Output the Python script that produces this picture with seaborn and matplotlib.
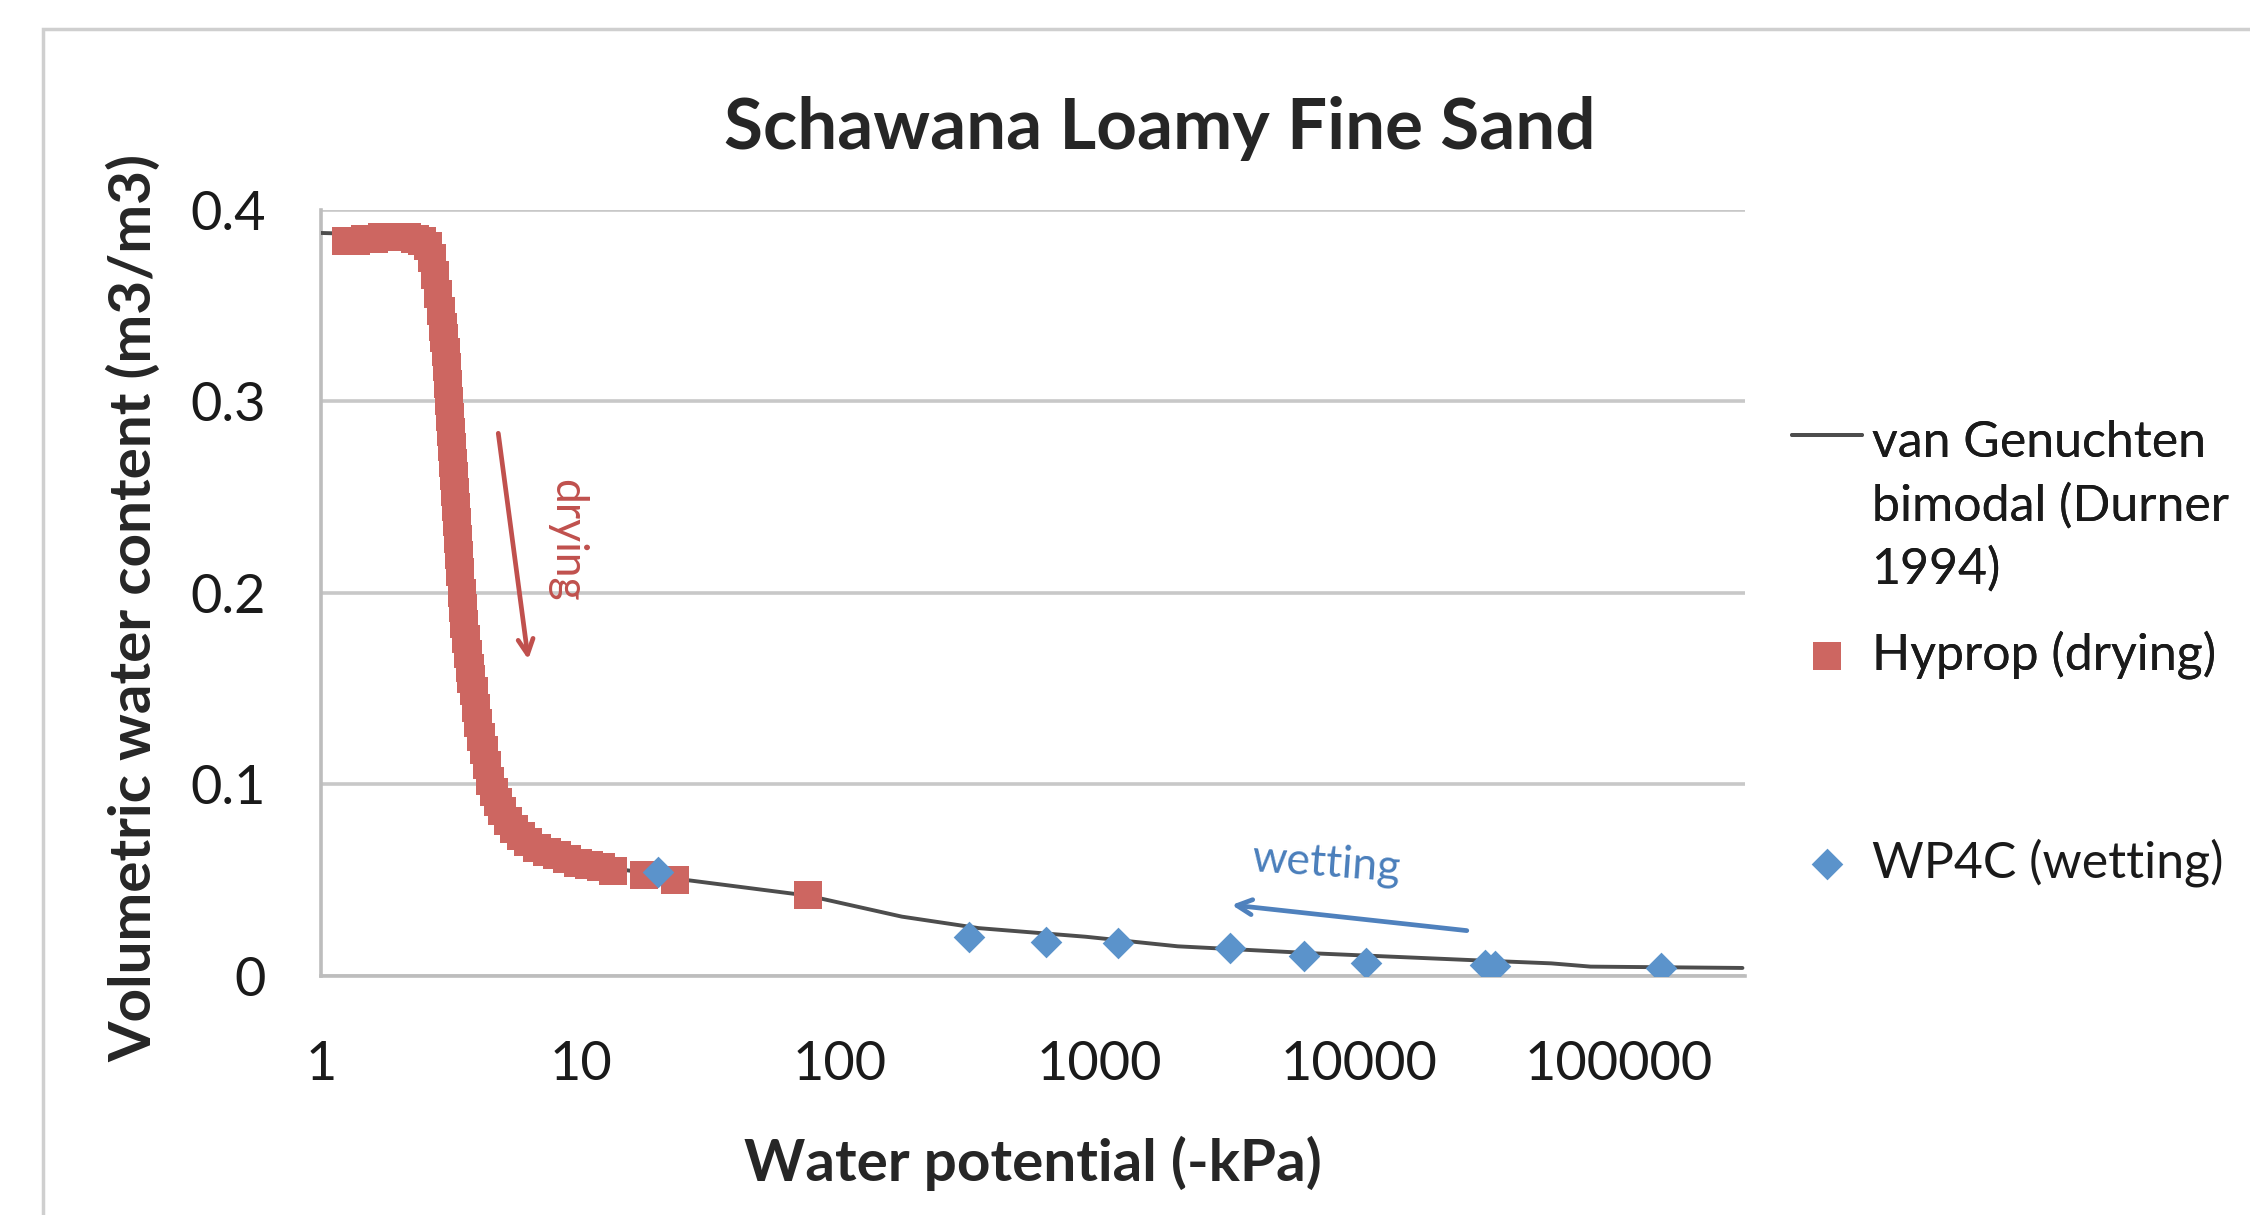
""" Water retention curve for the Schawana loamy fine sand """

import matplotlib
matplotlib.use("Agg")
import matplotlib.pyplot as plt
import pandas as pd
import seaborn as sns
from matplotlib.legend_handler import HandlerLine2D
from matplotlib.patches import Rectangle

# van Genuchten bimodal fit (Durner 1994)
vg_kpa = [1, 2, 2.5, 2.8, 3.0, 3.2, 3.5, 3.8, 4.0, 4.5, 5.2, 6.6, 8.8, 12, 20, 26,
          75, 173, 342, 884, 2000, 6800, 26000, 55000, 78000, 300000]
vg_theta = [0.388, 0.387, 0.38, 0.36, 0.33, 0.28, 0.20, 0.155, 0.132, 0.10, 0.082,
            0.067, 0.061, 0.057, 0.053, 0.050, 0.042, 0.031, 0.025, 0.0205, 0.0155,
            0.0118, 0.0084, 0.0066, 0.0049, 0.0042]

# Hyprop measurements (drying)
hyprop_kpa = [1.25, 1.36, 1.48, 1.6, 1.72, 1.85, 2.0, 2.15, 2.3, 2.45, 2.58, 2.68,
              2.76, 2.83, 2.89, 2.94, 2.98, 3.02, 3.05, 3.08, 3.11, 3.14, 3.17, 3.2,
              3.23, 3.26, 3.29, 3.32, 3.35, 3.38, 3.41, 3.44, 3.48, 3.52, 3.57, 3.62,
              3.68, 3.74, 3.8, 3.87, 3.95, 4.04, 4.13, 4.23, 4.35, 4.48, 4.63, 4.8,
              5.0, 5.25, 5.55, 5.9, 6.3, 6.8, 7.4, 8.1, 8.9, 9.8, 10.8, 12.0, 13.3,
              17.5, 23.1, 75.5]
hyprop_theta = [0.384, 0.384, 0.385, 0.385, 0.386, 0.386, 0.386, 0.386, 0.385, 0.384,
                0.381, 0.375, 0.366, 0.356, 0.347, 0.339, 0.333, 0.326, 0.318, 0.309,
                0.300, 0.292, 0.284, 0.276, 0.268, 0.261, 0.253, 0.245, 0.237, 0.228,
                0.220, 0.211, 0.200, 0.192, 0.184, 0.176, 0.168, 0.161, 0.155, 0.149,
                0.140, 0.132, 0.125, 0.118, 0.110, 0.102, 0.096, 0.091, 0.086, 0.081,
                0.077, 0.073, 0.070, 0.067, 0.065, 0.063, 0.061, 0.059, 0.058, 0.057,
                0.0548, 0.0527, 0.050, 0.0423]

# WP4C measurements (wetting)
wp4c_kpa = [19.9, 315, 621, 1175, 3170, 6120, 10600, 30500, 33500, 145800]
wp4c_theta = [0.0545, 0.0205, 0.0179, 0.0171, 0.0145, 0.0105, 0.0066, 0.0057, 0.0050, 0.0040]

x_ticks = [1, 10, 100, 1000, 10000, 100000]
x_tick_labels = ["1", "10", "100", "1000", "10000", "100000"]
y_ticks = [0, 0.1, 0.2, 0.3, 0.4]
y_tick_labels = ["0", "0.1", "0.2", "0.3", "0.4"]

RED = "#CD6661"
BLUE = "#5B93CB"
GRID = "#C8C8C8"


class TopLineHandler(HandlerLine2D):
    """ Put the legend line next to the first line of a multi-line label """

    def create_artists(self, legend, orig_handle, xdescent, ydescent, width, height,
                       fontsize, trans):
        artists = super().create_artists(legend, orig_handle, xdescent, ydescent,
                                         width, height, fontsize, trans)
        for artist in artists:
            artist.set_ydata([y + 1.45 * fontsize for y in artist.get_ydata()])
        return artists


sns.set_theme(style="white")
plt.rcParams["font.family"] = ["Lato", "DejaVu Sans"]

fig = plt.figure(figsize=(22.5, 12.15), dpi=100)
ax = fig.add_axes([0.14267, 0.19671, 0.63289, 0.63045])
ax.set_xscale("log")

vg_df = pd.DataFrame({"kpa": vg_kpa, "theta": vg_theta})
hyprop_df = pd.DataFrame({"kpa": hyprop_kpa, "theta": hyprop_theta})
wp4c_df = pd.DataFrame({"kpa": wp4c_kpa, "theta": wp4c_theta})

sns.lineplot(data=vg_df, x="kpa", y="theta", ax=ax, color="#4d4d4d", linewidth=2.8,
             label="van Genuchten\nbimodal (Durner\n1994)", zorder=3)
sns.scatterplot(data=hyprop_df, x="kpa", y="theta", ax=ax, marker="s", s=390,
                color=RED, linewidth=0, label="Hyprop (drying)", zorder=4)
sns.scatterplot(data=wp4c_df, x="kpa", y="theta", ax=ax, marker="D", s=260,
                color=BLUE, linewidth=0, label="WP4C (wetting)", zorder=5)

# axes, ticks and grid
ax.set_xlim(1, 10 ** 5.487)
ax.set_ylim(0, 0.4)
ax.set_xticks(x_ticks, x_tick_labels)
ax.set_yticks(y_ticks, y_tick_labels)
ax.minorticks_off()
ax.tick_params(axis="both", length=0, labelsize=39, colors="#1a1a1a")
ax.tick_params(axis="x", pad=46)
ax.tick_params(axis="y", pad=40)
ax.yaxis.grid(True, color=GRID, linewidth=2.6)
ax.xaxis.grid(False)
for side in ["top", "right"]:
    ax.spines[side].set_visible(False)
for side in ["left", "bottom"]:
    ax.spines[side].set_color("#BDBDBD")
    ax.spines[side].set_linewidth(2.6)

ax.set_xlabel("Water potential (-kPa)", fontsize=42, fontweight="bold", labelpad=34)
ax.set_ylabel("Volumetric water content (m3/m3)", fontsize=42, fontweight="bold")
ax.yaxis.set_label_coords(-0.112, 0.48)
fig.suptitle("Schawana Loamy Fine Sand", x=0.5156, y=0.894, va="center",
             fontsize=51, fontweight="bold")

# drying / wetting annotations
ax.annotate("", xy=(6.29, 0.1653), xytext=(4.82, 0.2834),
            arrowprops=dict(arrowstyle="->,head_length=0.9,head_width=0.45",
                            color="#C0504D", lw=3.4, shrinkA=0, shrinkB=0))
ax.text(8.87, 0.2277, "drying", rotation=270, color="#C0504D", fontsize=32,
        ha="center", va="center")
ax.annotate("", xy=(3230, 0.0371), xytext=(26000, 0.0237),
            arrowprops=dict(arrowstyle="->,head_length=0.9,head_width=0.45",
                            color="#4F81BD", lw=3.4, shrinkA=0, shrinkB=0))
ax.text(7460, 0.0585, "wetting", rotation=-4, color="#4A7EBB", fontsize=32,
        ha="center", va="center")

# legend split in two like the original layout
handles, labels = ax.get_legend_handles_labels()
ax.get_legend().remove()
leg1 = fig.legend(handles[:2], labels[:2], loc="upper left",
                  bbox_to_anchor=(0.7964, 0.6545), frameon=False, fontsize=36,
                  handlelength=1.4, handletextpad=0.2, borderpad=0, borderaxespad=0,
                  labelspacing=0.75, handler_map={handles[0]: TopLineHandler()})
for text in leg1.get_texts():
    text.set_color("#1a1a1a")
    text.set_linespacing(1.45)
leg2 = fig.legend(handles[2:], labels[2:], loc="upper left",
                  bbox_to_anchor=(0.7964, 0.3103), frameon=False, fontsize=36,
                  handlelength=1.4, handletextpad=0.2, borderpad=0, borderaxespad=0)
for text in leg2.get_texts():
    text.set_color("#1a1a1a")
fig.add_artist(leg1)

# chart border
fig.patches.append(Rectangle((43 / 2250, -0.1), 1.2, 1.1 - 29 / 1215,
                             transform=fig.transFigure, fill=False,
                             edgecolor="#CFCFCF", linewidth=2.5))

plt.savefig("out.png", dpi=100)
